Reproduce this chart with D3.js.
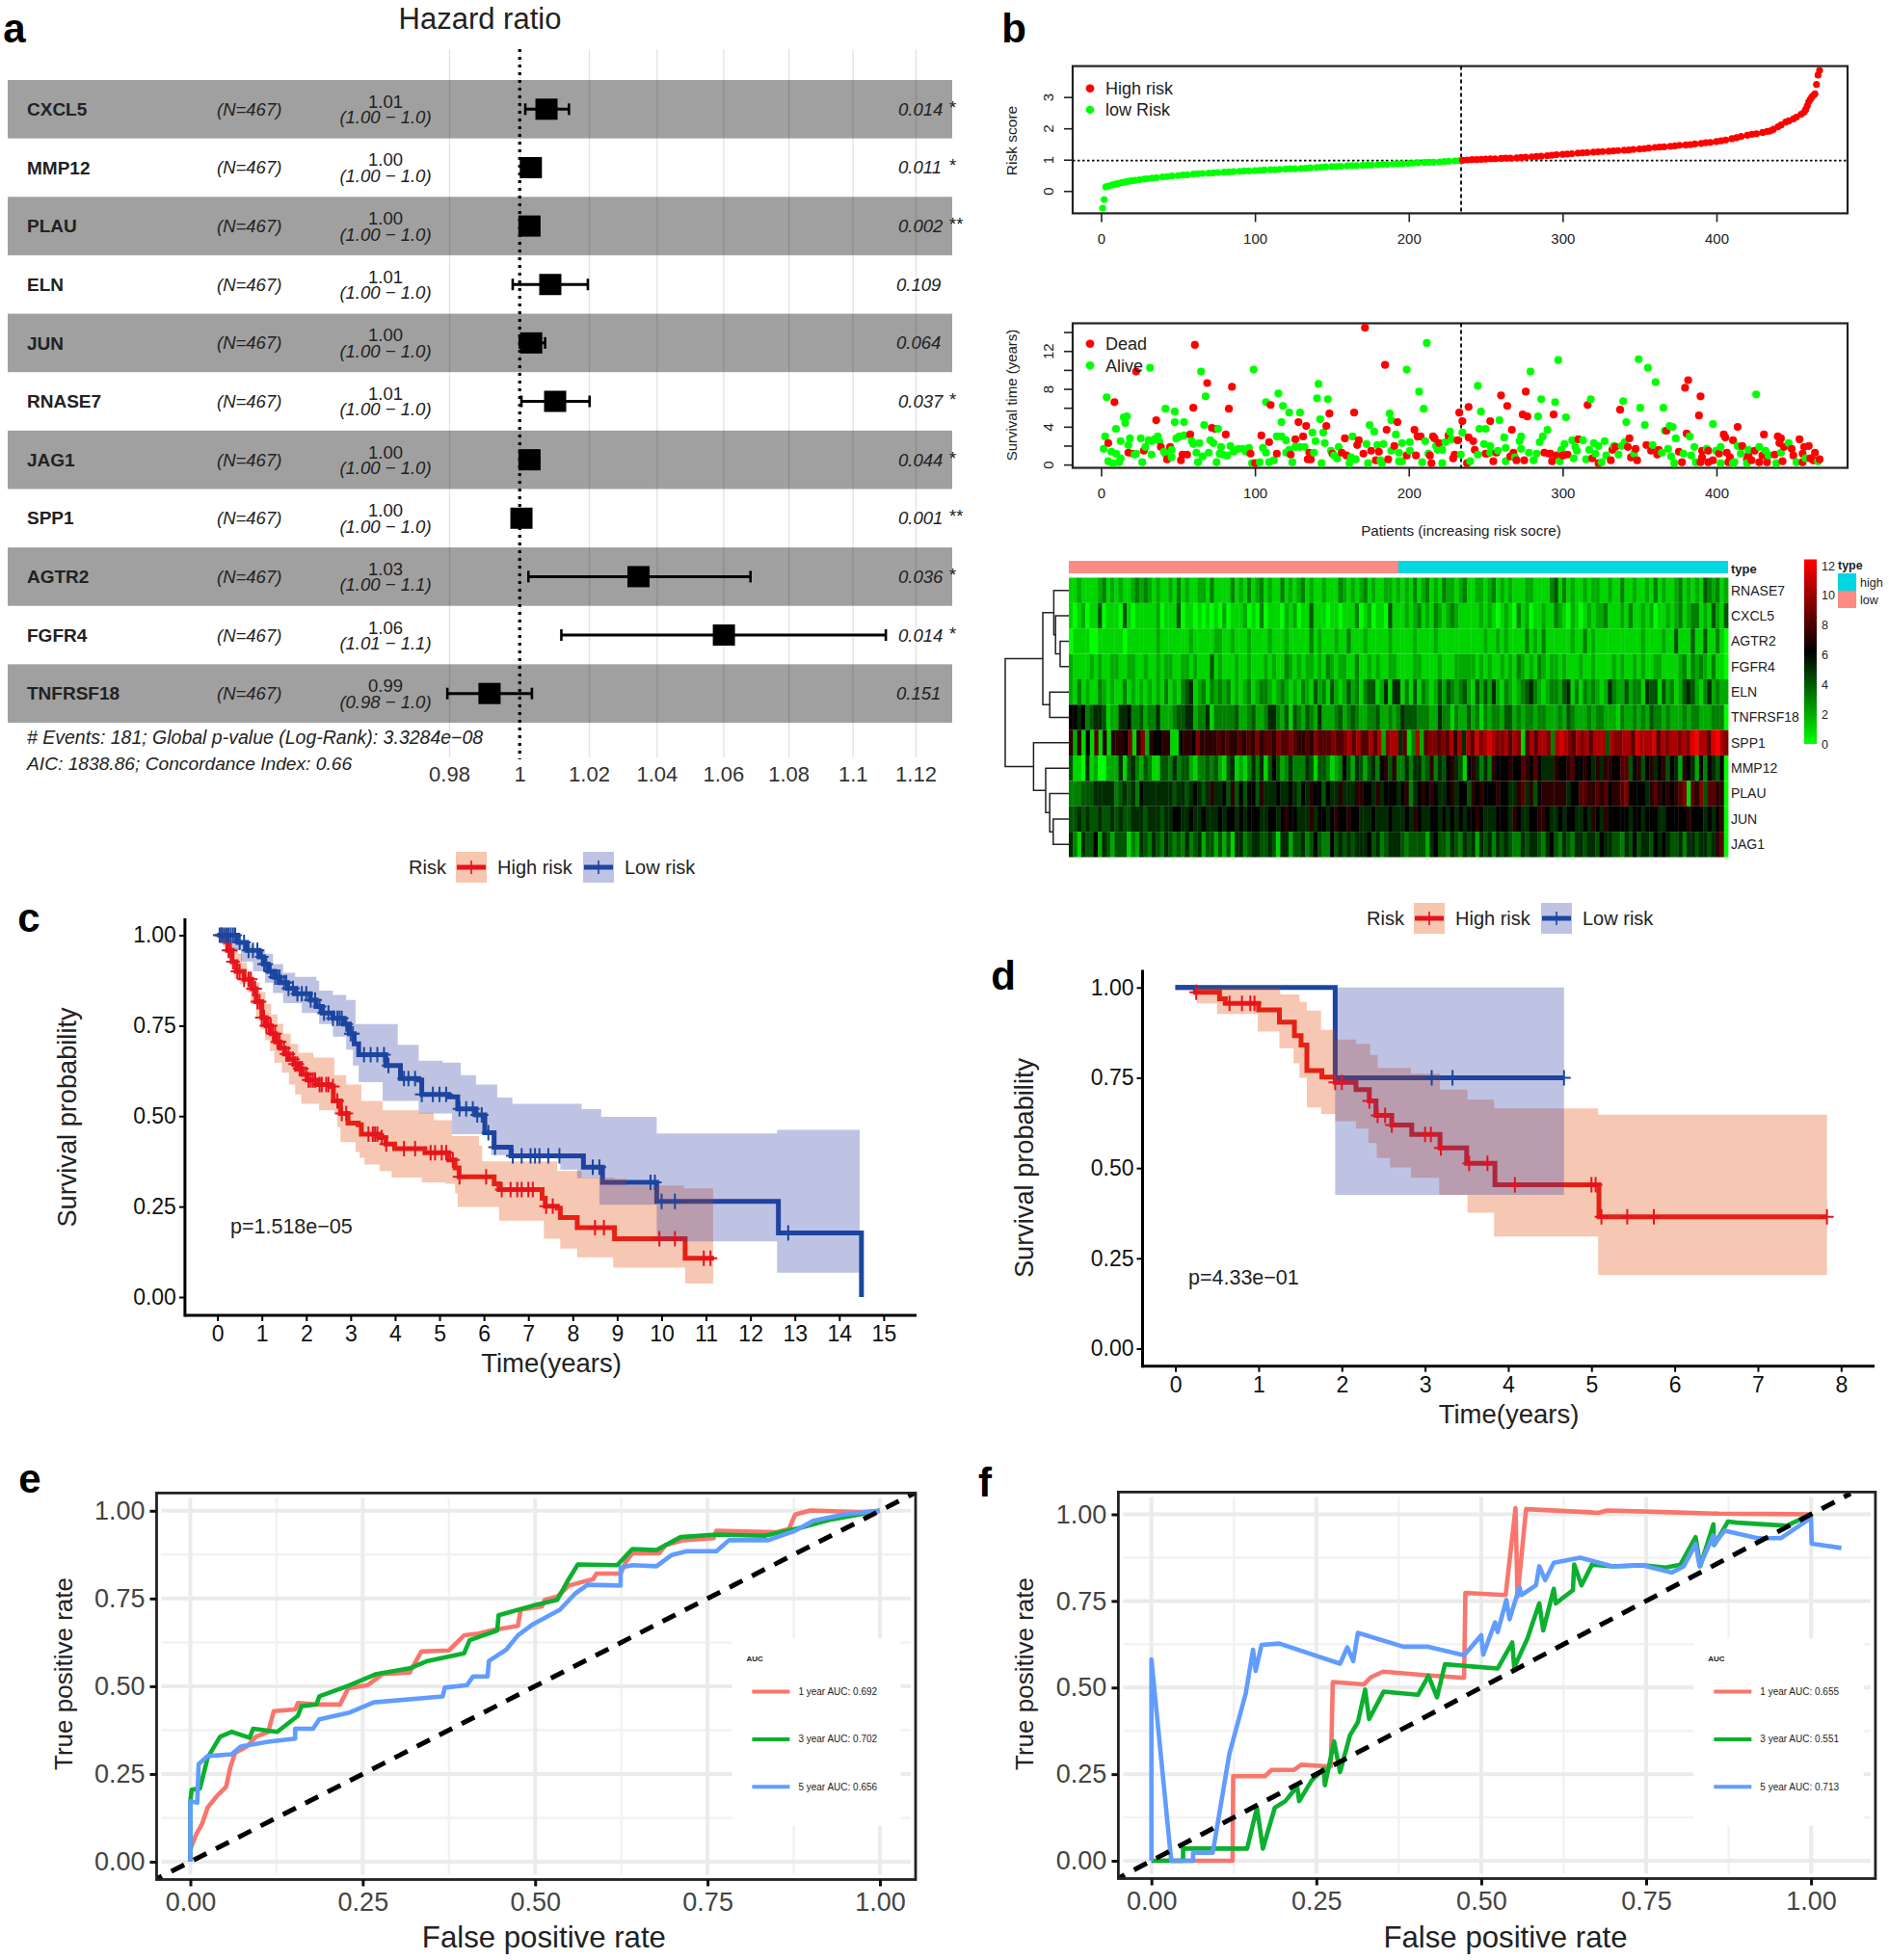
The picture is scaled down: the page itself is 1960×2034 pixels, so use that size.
<!DOCTYPE html>
<html>
<head>
<meta charset="utf-8">
<script src="https://cdn.jsdelivr.net/npm/d3@7"></script>
<style>
	body { margin: 0; background: #fff; }
	svg { display: block; font-family: "Liberation Sans", Arial, sans-serif; }
</style>
</head>
<body>
<svg id="figure" width="1960" height="2034"></svg>
<script>
// Data for panel a (forest plot)
//---------------------------------------------------------------------------
var forestGenes = ["CXCL5", "MMP12", "PLAU", "ELN", "JUN", "RNASE7", "JAG1", "SPP1", "AGTR2", "FGFR4", "TNFRSF18"];
var forestHr = [1.0077, 1.0032, 1.0028, 1.0088, 1.0033, 1.0102, 1.0028, 1.0005, 1.0346, 1.0602, 0.9914];
var forestLow = [1.0016, 1.0010, 1.0010, 0.9980, 1.0000, 1.0005, 1.0001, 1.0002, 1.0025, 1.0120, 0.9795];
var forestHigh = [1.0142, 1.0055, 1.0050, 1.0197, 1.0073, 1.0202, 1.0055, 1.0009, 1.0683, 1.1105, 1.0035];
var forestHrText = ["1.01", "1.00", "1.00", "1.01", "1.00", "1.01", "1.00", "1.00", "1.03", "1.06", "0.99"];
var forestCiText = ["(1.00 − 1.0)", "(1.00 − 1.0)", "(1.00 − 1.0)", "(1.00 − 1.0)", "(1.00 − 1.0)", "(1.00 − 1.0)",
	"(1.00 − 1.0)", "(1.00 − 1.0)", "(1.00 − 1.1)", "(1.01 − 1.1)", "(0.98 − 1.0)"];
var forestP = ["0.014", "0.011", "0.002", "0.109", "0.064", "0.037", "0.044", "0.001", "0.036", "0.014", "0.151"];
var forestStars = ["*", "*", "**", "", "", "*", "*", "**", "*", "*", ""];
var forestTicks = [0.98, 1, 1.02, 1.04, 1.06, 1.08, 1.1, 1.12];

// Data for panel b (risk score, survival scatter, heatmap)
//---------------------------------------------------------------------------
var riskLowPts = [[1,-0.55],[2,-0.27],[3,0.13],[4,0.15],[5,0.16],[7,0.19],[8,0.2],[10,0.23],[11,0.24],[13,0.26],[14,0.27],[16,0.29],[17,0.3],[19,0.32],[20,0.33],[22,0.34],[25,0.36],[28,0.38],[30,0.39],[33,0.41],[36,0.43],[40,0.45],[43,0.46],[46,0.48],[50,0.49],[53,0.51],[56,0.52],[60,0.54],[63,0.55],[66,0.56],[70,0.57],[73,0.58],[76,0.59],[80,0.6],[83,0.61],[86,0.62],[90,0.63],[93,0.64],[96,0.64],[100,0.65],[103,0.66],[106,0.67],[110,0.68],[113,0.68],[116,0.69],[120,0.7],[123,0.71],[126,0.71],[130,0.72],[133,0.73],[136,0.74],[140,0.75],[143,0.76],[146,0.77],[150,0.78],[153,0.78],[156,0.79],[160,0.8],[163,0.81],[166,0.81],[170,0.82],[173,0.83],[176,0.83],[180,0.84],[183,0.85],[186,0.85],[190,0.86],[193,0.87],[196,0.87],[200,0.88],[203,0.89],[206,0.9],[210,0.91],[213,0.92],[216,0.92],[220,0.93],[223,0.94],[226,0.95],[230,0.96],[233,0.97]];
var riskHighPts = [[235,0.98],[238,0.99],[241,1],[244,1],[247,1.01],[250,1.02],[253,1.03],[256,1.03],[260,1.04],[263,1.05],[266,1.05],[270,1.06],[273,1.07],[276,1.08],[280,1.09],[283,1.1],[286,1.11],[290,1.13],[293,1.14],[296,1.16],[300,1.17],[303,1.18],[306,1.19],[310,1.21],[313,1.22],[316,1.23],[320,1.24],[323,1.25],[326,1.26],[330,1.27],[333,1.28],[336,1.29],[340,1.3],[343,1.31],[346,1.33],[350,1.34],[353,1.35],[356,1.37],[360,1.39],[363,1.4],[366,1.41],[370,1.43],[373,1.44],[376,1.46],[380,1.47],[383,1.48],[386,1.5],[390,1.52],[393,1.54],[396,1.55],[400,1.58],[403,1.6],[406,1.63],[410,1.67],[413,1.7],[416,1.74],[420,1.78],[423,1.81],[426,1.83],[430,1.87],[433,1.9],[435,1.92],[437,1.97],[440,2.05],[442,2.11],[445,2.2],[447,2.24],[450,2.3],[452,2.36],[455,2.45],[457,2.52],[458,2.6],[459,2.72],[460,2.85],[461,2.93],[462,3],[463,3.05],[464,3.1],[465,3.4],[466,3.7],[467,3.85]];
var survDead = [[4,2.5],[8,6.8],[22,10],[17,1.5],[20,1.4],[27,1.7],[35,4.9],[38,2.1],[44,2.1],[42,0.8],[51,0.7],[52,1.3],[55,1.3],[57,3.4],[59,6.2],[60,12.8],[68,8.8],[71,4.1],[73,4],[80,3.4],[82,6.1],[84,8.4],[96,1.4],[99,0.4],[103,3.3],[108,2.6],[109,6.5],[113,1.4],[122,1.3],[125,2.9],[127,4.7],[130,3.2],[132,4.3],[134,1.5],[133,0.8],[135,0.8],[145,4.3],[147,5.6],[149,1.4],[155,1.5],[158,1.2],[157,3],[163,5.7],[165,2.3],[166,2.8],[169,1.4],[170,14.6],[174,1.7],[179,1.6],[177,0.7],[185,0.8],[183,10.7],[184,3.9],[189,2.2],[191,4.7],[197,1.2],[202,3.9],[204,3.2],[206,3.2],[203,1.2],[212,1.2],[213,0.4],[214,3.2],[215,3],[218,2.5],[224,3.3],[228,1.3],[227,0.9],[230,2.8],[231,5.7],[233,4.8],[237,6.3],[237,3.1],[240,2.7],[241,1.8],[236,0.4],[248,1.4],[249,1.4],[255,1.5],[258,7.5],[262,6.4],[251,4.8],[265,3.9],[264,1.1],[266,1.5],[268,0.7],[253,0.6],[273,0.7],[274,7.9],[272,5.5],[275,5.3],[292,5.5],[286,1.5],[289,1.4],[290,1.4],[291,0.6],[294,1.2],[298,1.2],[301,1.3],[308,2.9],[314,6.5],[317,0.9],[321,0.4],[329,0.7],[330,1.8],[332,2.1],[335,6],[340,2.1],[341,3],[342,1],[345,1.9],[346,0.7],[352,2.3],[355,1.7],[359,1.3],[360,1.8],[365,3.8],[373,1.6],[375,0.5],[377,8.3],[379,9.1],[378,3.5],[386,5.4],[387,7.4],[388,1.7],[388,1],[392,1.7],[387,0.5],[392,0.5],[395,0.7],[399,1.4],[402,3.4],[403,3.1],[404,1.5],[406,1],[405,0.5],[408,2.8],[411,4.2],[414,2.2],[418,1.2],[417,0.8],[422,1.7],[420,0.7],[425,0.5],[427,1.2],[430,0.5],[428,3.4],[435,1.3],[437,3.2],[439,3],[438,2.5],[441,2.1],[440,0.6],[446,1.9],[447,1.2],[451,2.9],[453,1.4],[454,2.1],[453,0.5],[457,2.2],[458,0.9],[461,1.5],[464,0.8],[460,0.7]];
var survAlive = [[3,7.3],[2,3.2],[1,1.9],[6,1.6],[4,0.6],[7,0.4],[9,1.4],[12,0.9],[11,0.5],[9,4],[12,2.7],[14,5.2],[16,5.3],[15,4.6],[18,3],[17,2.3],[22,1.4],[21,1.3],[25,3],[28,2.1],[30,2.8],[32,1.3],[26,0.5],[31,10.4],[32,2.7],[34,2.9],[36,3.2],[37,2.7],[41,6.1],[40,1.6],[41,1.4],[45,1.8],[45,1],[47,5.8],[47,4.7],[53,4.7],[48,3],[50,3.2],[53,3.3],[58,2.7],[59,2.4],[63,2.5],[61,1.5],[66,4.4],[64,10],[67,7.4],[70,2.8],[72,2.5],[75,4],[62,0.5],[65,1.1],[69,1.5],[74,0.5],[77,2.1],[76,1.4],[78,1.3],[81,1.2],[83,2.2],[85,1.6],[88,1.9],[91,1.9],[95,2],[93,1.6],[97,0.4],[102,0.5],[98,10.2],[104,2],[106,1.5],[106,6.8],[108,0.5],[111,0.7],[114,7.7],[117,6.4],[121,5.7],[116,4.7],[113,3.2],[116,3.2],[119,2.8],[121,1.8],[119,1.5],[123,0.5],[125,2.1],[128,2.1],[131,2.1],[128,5.7],[137,1.5],[136,3.6],[138,2.7],[139,7.2],[140,8.7],[141,5],[143,3.6],[144,2.5],[146,7.1],[148,1.7],[142,0.4],[150,1.2],[152,0.9],[153,2.1],[160,0.4],[161,1],[164,0.8],[162,3.2],[171,2.4],[172,0.4],[173,4.4],[176,3.7],[178,2.3],[182,2.4],[186,5.6],[187,4.9],[190,3.4],[194,2.5],[192,1.5],[187,1.7],[180,0.7],[181,0.4],[192,0.6],[194,0.6],[197,10.2],[199,2.6],[199,1.7],[205,7.9],[208,6.1],[210,13],[209,2.7],[207,0.5],[211,1.4],[220,0.4],[216,2.2],[217,1.8],[220,1.8],[222,2.6],[225,3.7],[226,2.9],[233,3.6],[232,1.3],[243,8.5],[245,5.8],[244,4],[248,4],[247,2.4],[251,2.2],[251,1.5],[243,1.3],[238,0.6],[256,1.7],[257,4.9],[260,3.1],[261,2],[261,0.6],[270,2.7],[271,3.2],[271,1.9],[267,1],[277,10],[284,7.1],[282,5.3],[288,3.9],[285,3.2],[283,2.6],[276,1.5],[281,1.4],[279,0.7],[293,6.8],[295,11.2],[300,5.2],[299,2.4],[297,1.8],[296,0.6],[304,2.8],[306,2.1],[305,0.9],[311,2.8],[307,1.7],[313,0.8],[316,7.1],[318,2.5],[315,1.8],[321,2.2],[319,1.4],[325,2.7],[326,1.2],[323,0.5],[331,2.2],[334,1.3],[336,2.2],[338,2.6],[337,6.9],[339,4.7],[344,1.4],[348,6.2],[351,4.4],[347,11.3],[353,10.4],[358,8.9],[363,6.2],[356,2.3],[362,1.5],[366,1.9],[368,1.1],[367,4.3],[369,4.2],[364,3.8],[371,3],[370,0.4],[376,1.4],[380,3.2],[383,2.1],[381,1.2],[384,0.5],[395,4.5],[391,1.9],[397,1.7],[400,2.1],[400,0.4],[409,0.5],[408,0.4],[411,2.2],[413,2.1],[413,1.4],[417,0.4],[418,1.8],[423,7.6],[425,2.1],[429,1.7],[431,1.2],[436,0.4],[439,1.5],[444,2.5],[449,0.5],[455,0.9],[463,0.6]];
var scatterTicks = [0, 100, 200, 300, 400];
var riskTicks = [0, 1, 2, 3];
var survTicks = [0, 2, 4, 6, 8, 10, 12, 14];
var riskCut = 0.97;
var medianPatient = 234;

var heatGenes = ["RNASE7", "CXCL5", "AGTR2", "FGFR4", "ELN", "TNFRSF18", "SPP1", "MMP12", "PLAU", "JUN", "JAG1"];
// one hex digit per column, expression 0-12
var heatRows = [
	"112111123121211232321211213121122131111312131231211312123121121113212123121122121213123121322123112212312121112211113413121121221121131121121312112312121432312",
	"101201140111041011111201114011010101020111201030111021201141110110111301201104111212312132123211111212101210312011211321021012122311121311212011212312331214214",
	"011110011111101111111211111112111112211211121111211121111131211121131112111112111112111121111111111121121211113121311111121131211111111111211112114111411411310",
	"211112121122112211211212211221211141211121121112121132121221213212211311212112211112211112111222221212112121321213212212111211211112121121211221111231323213110",
	"213121132121131212121213121345123132323121231233212321213214231421242313441251551314132124243234214242521321234532123324513132321253224233154414231245421352322",
	"665634554122556334233522234455233513333342234223553241432432522234234322334223235444333225331322423132332442323323322232432223233222132232324332322232332223330",
	"727161817177769179276677116776977778787787879788798898778798889889a8a88a8a29aa5813a2899898a7a5a8b9aba99a8a918a8aa93aba98a9a8aaa4a99aa8baaab8a9aa9a9bcaa8bca9",
	"411051200222514532431144353442133434214512135351464235333541443123642542453674733535534735467541675353766676687686555766786676575776688467467567465276526365460",
	"333444555553454536555555545545654575564746466475556556546576646557555776657566656735676765567566476766676655785746777777566887787867789666657876767891879488770",
	"445454454454544555455545566556556555656656566655665676655575665676676655565556555657655665656565667655566657655667765565665565765766666566566655666667666565670",
	"531544625424441325435435434353452442424155345544541552445346433645454555645345554344442564435435452545354543354554356435435545546554435464554656544535545545780"
];
var heatLegendTicks = [0, 2, 4, 6, 8, 10, 12];
// merge height followed by its two children, plain numbers are leaf rows
var dendroTree = [110, [45, [26, 0, [23, 1, [15, 2, 3]]], [33, 4, 5]], [61, 6, [40, 7, [33, 8, [27, 9, 10]]]]];

// Data for panels c and d (survival curves), [time, probability] per step
//---------------------------------------------------------------------------
var kmYTicks = [0, 0.25, 0.5, 0.75, 1];
var cTicks = [0, 1, 2, 3, 4, 5, 6, 7, 8, 9, 10, 11, 12, 13, 14, 15];
var cHigh = [[0,1],[0.12,0.997],[0.23,0.958],[0.33,0.927],[0.42,0.9],[0.6,0.878],[0.77,0.852],[0.87,0.816],[1,0.772],[1.1,0.75],[1.21,0.728],[1.31,0.705],[1.41,0.688],[1.51,0.672],[1.61,0.657],[1.72,0.644],[1.82,0.631],[1.92,0.615],[2.02,0.6],[2.23,0.587],[2.56,0.582],[2.61,0.542],[2.77,0.507],[2.94,0.481],[3.17,0.476],[3.24,0.45],[3.65,0.441],[3.79,0.423],[3.99,0.41],[4.67,0.399],[5.21,0.379],[5.35,0.357],[5.44,0.332],[6.16,0.332],[6.23,0.313],[6.34,0.297],[7.25,0.297],[7.31,0.273],[7.38,0.251],[7.65,0.246],[7.72,0.22],[8.1,0.192],[8.94,0.161],[10.53,0.107],[11.18,0.107]];
var cHighUp = [[0,1],[0.2,0.985],[0.33,0.965],[0.46,0.949],[0.55,0.925],[0.66,0.896],[0.8,0.87],[0.94,0.843],[1.08,0.81],[1.21,0.781],[1.35,0.755],[1.48,0.728],[1.65,0.7],[1.82,0.675],[2.16,0.662],[2.63,0.613],[2.9,0.587],[3.24,0.542],[3.72,0.516],[4.53,0.509],[4.87,0.489],[5.28,0.445],[5.89,0.419],[5.96,0.375],[7.65,0.348],[8.2,0.33],[8.94,0.326],[9.21,0.308],[10.5,0.3],[11.16,0.3]];
var cHighLow = [[0,1],[0.12,0.97],[0.26,0.94],[0.39,0.878],[0.5,0.865],[0.66,0.843],[0.75,0.81],[0.87,0.772],[0.97,0.74],[1.07,0.71],[1.18,0.68],[1.28,0.648],[1.45,0.62],[1.61,0.587],[1.75,0.56],[1.89,0.534],[2.29,0.516],[2.63,0.507],[2.7,0.47],[2.77,0.428],[3.11,0.401],[3.2,0.385],[3.31,0.366],[3.65,0.348],[3.92,0.33],[4.6,0.317],[5.14,0.313],[5.35,0.286],[5.41,0.249],[6.34,0.211],[7.35,0.161],[7.72,0.134],[8.1,0.11],[8.91,0.081],[10.53,0.037],[11.16,0.037]];
var cLow = [[0,1],[0.46,0.98],[0.66,0.958],[0.94,0.94],[1.04,0.92],[1.14,0.9],[1.28,0.884],[1.41,0.869],[1.58,0.853],[1.75,0.838],[2.09,0.821],[2.22,0.803],[2.36,0.785],[2.6,0.77],[2.84,0.754],[2.97,0.728],[3.08,0.7],[3.18,0.67],[3.79,0.64],[4.12,0.604],[4.53,0.6],[4.6,0.56],[5.21,0.553],[5.41,0.52],[5.82,0.503],[6.02,0.454],[6.23,0.414],[6.61,0.39],[8.24,0.359],[8.67,0.317],[9.89,0.264],[12.63,0.177],[14.5,0]];
var cLowUp = [[0,1],[0.3,0.99],[0.53,0.975],[0.8,0.962],[1.07,0.949],[1.25,0.92],[1.48,0.896],[1.75,0.885],[2.23,0.874],[2.29,0.847],[2.6,0.835],[2.9,0.821],[3.11,0.754],[4.06,0.697],[4.53,0.653],[5.07,0.648],[5.48,0.613],[5.82,0.587],[6.3,0.551],[6.64,0.534],[8.2,0.519],[8.64,0.498],[9.89,0.452],[12.6,0.462],[14.46,0.462]];
var cLowLow = [[0,1],[0.3,0.96],[0.53,0.927],[0.8,0.9],[1.07,0.869],[1.25,0.84],[1.48,0.812],[1.9,0.785],[2.29,0.754],[2.6,0.72],[2.9,0.684],[3.05,0.64],[3.18,0.594],[3.72,0.542],[4.53,0.507],[5.28,0.45],[6.16,0.392],[7.72,0.352],[8.1,0.329],[8.6,0.255],[9.89,0.154],[12.6,0.067],[14.46,0.067]];
var cHighCensor = [0.1,0.15,0.2,0.25,0.3,0.35,0.45,0.5,0.6,0.7,0.75,0.8,0.85,0.9,0.95,1,1.05,1.1,1.15,1.2,1.25,1.3,1.35,1.4,1.5,1.55,1.6,1.7,1.75,1.8,1.85,1.9,2,2.05,2.1,2.15,2.2,2.3,2.35,2.45,2.5,2.6,2.7,2.8,2.9,3.4,3.5,3.55,3.6,3.7,3.8,4.2,4.45,4.8,4.9,5.05,5.15,5.3,5.45,6.05,6.4,6.6,6.75,6.85,7,7.1,7.4,7.55,8.5,8.7,9.95,10.3,10.95,11.1];
var cLowCensor = [0.05,0.1,0.15,0.2,0.25,0.3,0.35,0.4,0.5,0.6,0.7,0.8,0.9,1,1.05,1.1,1.2,1.3,1.35,1.4,1.5,1.55,1.6,1.7,1.8,1.9,2,2.1,2.2,2.3,2.4,2.5,2.6,2.7,2.75,2.8,2.9,3,3.05,3.3,3.45,3.6,3.75,3.85,4.2,4.3,4.45,4.6,4.85,5,5.15,5.45,5.6,5.75,5.85,5.95,6.1,6.25,6.65,6.85,7.05,7.15,7.25,7.45,7.7,8.45,8.6,9.75,9.85,10,10.3,12.85];

var dTicks = [0, 1, 2, 3, 4, 5, 6, 7, 8];
var dHigh = [[0,1],[0.24,0.987],[0.53,0.969],[0.6,0.956],[1,0.938],[1.25,0.904],[1.43,0.867],[1.51,0.841],[1.58,0.77],[1.76,0.752],[1.92,0.737],[2.17,0.717],[2.33,0.686],[2.41,0.646],[2.6,0.619],[2.84,0.593],[3.18,0.556],[3.5,0.513],[3.84,0.454],[5.09,0.365],[7.83,0.365]];
var dHighUp = [[0,1],[1.26,0.981],[1.49,0.96],[1.58,0.936],[1.75,0.883],[1.92,0.856],[2.17,0.844],[2.34,0.813],[2.43,0.777],[2.83,0.761],[3.18,0.717],[3.51,0.69],[3.83,0.665],[5.08,0.648],[7.83,0.648]];
var dHighLow = [[0,1],[0.26,0.956],[0.5,0.927],[0.99,0.878],[1.25,0.832],[1.42,0.79],[1.49,0.75],[1.58,0.668],[1.75,0.65],[1.92,0.63],[2.17,0.609],[2.32,0.569],[2.42,0.528],[2.58,0.502],[2.83,0.473],[3.17,0.426],[3.51,0.376],[3.83,0.31],[5.08,0.204],[7.83,0.204]];
var dLow = [[0,1],[1.92,0.75],[4.67,0.75]];
var dLowUp = [[0,1],[4.67,1]];
var dLowLow = [[0,1],[1.92,0.426],[4.67,0.426]];
var dHighCensor = [0.25,0.65,0.8,0.9,0.95,1.92,2,2.33,2.43,2.52,2.6,3,3.07,3.19,3.53,3.75,4.08,5,5.05,5.12,5.43,5.75,7.83];
var dLowCensor = [3.08,3.33,4.67];

// Data for panels e and f (ROC curves), [false positive, true positive]
//---------------------------------------------------------------------------
var rocTicks = [0, 0.25, 0.5, 0.75, 1];
var rocMinor = [0.125, 0.375, 0.625, 0.875];
var rocDiag = [-0.06, 1.06];
var e1year = [[0,0],[0,0.035],[0.008,0.076],[0.017,0.108],[0.025,0.154],[0.038,0.186],[0.052,0.214],[0.058,0.269],[0.065,0.31],[0.082,0.328],[0.095,0.356],[0.113,0.37],[0.121,0.429],[0.152,0.434],[0.156,0.452],[0.183,0.448],[0.217,0.448],[0.229,0.494],[0.257,0.503],[0.279,0.535],[0.318,0.539],[0.335,0.599],[0.375,0.602],[0.397,0.645],[0.418,0.65],[0.436,0.659],[0.475,0.672],[0.479,0.718],[0.51,0.728],[0.514,0.746],[0.532,0.755],[0.549,0.787],[0.584,0.805],[0.589,0.821],[0.624,0.821],[0.632,0.856],[0.641,0.879],[0.68,0.879],[0.689,0.902],[0.715,0.916],[0.759,0.922],[0.763,0.943],[0.851,0.939],[0.868,0.948],[0.877,0.989],[0.899,1.001],[0.973,0.996],[1,1]];
var e3year = [[0,0],[0,0.172],[0.002,0.205],[0.014,0.209],[0.025,0.296],[0.043,0.356],[0.06,0.37],[0.086,0.353],[0.091,0.379],[0.126,0.37],[0.156,0.416],[0.161,0.443],[0.183,0.448],[0.187,0.471],[0.231,0.503],[0.27,0.535],[0.318,0.551],[0.344,0.572],[0.397,0.594],[0.405,0.631],[0.445,0.659],[0.447,0.702],[0.501,0.732],[0.532,0.746],[0.549,0.806],[0.562,0.847],[0.619,0.845],[0.641,0.891],[0.676,0.888],[0.711,0.925],[0.763,0.932],[0.833,0.929],[0.886,0.952],[0.929,0.975],[1,1]];
var e5year = [[0,0],[0,0.172],[0.01,0.168],[0.012,0.278],[0.025,0.301],[0.06,0.306],[0.073,0.328],[0.113,0.342],[0.152,0.351],[0.152,0.379],[0.178,0.379],[0.187,0.406],[0.231,0.425],[0.266,0.454],[0.366,0.471],[0.369,0.496],[0.401,0.503],[0.41,0.528],[0.431,0.528],[0.433,0.572],[0.458,0.604],[0.475,0.645],[0.497,0.677],[0.536,0.718],[0.558,0.764],[0.576,0.789],[0.624,0.787],[0.624,0.838],[0.641,0.845],[0.676,0.842],[0.698,0.874],[0.72,0.885],[0.763,0.885],[0.781,0.916],[0.838,0.916],[0.877,0.943],[0.903,0.971],[0.947,0.989],[1,1]];
var f1year = [[0,0],[0.123,0],[0.124,0.244],[0.172,0.244],[0.182,0.262],[0.216,0.262],[0.227,0.277],[0.272,0.272],[0.275,0.516],[0.322,0.509],[0.333,0.53],[0.351,0.546],[0.413,0.536],[0.474,0.528],[0.476,0.773],[0.537,0.767],[0.552,1.018],[0.555,0.762],[0.568,1.015],[0.664,1.006],[0.677,1.004],[0.691,1.011],[0.789,1.006],[0.86,1.002],[0.932,1.001],[1,1]];
var f3year = [[0,0],[0.029,0],[0.048,0],[0.048,0.035],[0.145,0.035],[0.16,0.153],[0.169,0.035],[0.187,0.153],[0.203,0.172],[0.221,0.214],[0.224,0.172],[0.243,0.232],[0.261,0.265],[0.263,0.218],[0.277,0.344],[0.286,0.256],[0.301,0.362],[0.313,0.4],[0.324,0.494],[0.33,0.409],[0.352,0.488],[0.404,0.479],[0.42,0.534],[0.433,0.472],[0.445,0.567],[0.525,0.555],[0.547,0.63],[0.55,0.558],[0.57,0.641],[0.588,0.743],[0.594,0.665],[0.61,0.785],[0.613,0.743],[0.639,0.781],[0.641,0.855],[0.652,0.795],[0.668,0.855],[0.699,0.85],[0.744,0.853],[0.78,0.846],[0.802,0.855],[0.825,0.934],[0.832,0.85],[0.852,0.971],[0.853,0.911],[0.874,0.979],[0.887,0.976],[0.963,0.967],[1,1]];
var f5year = [[0,0],[0,0.581],[0.03,0],[0.063,0],[0.063,0.023],[0.093,0.023],[0.118,0.307],[0.143,0.483],[0.154,0.609],[0.158,0.548],[0.167,0.623],[0.194,0.627],[0.286,0.569],[0.297,0.616],[0.306,0.576],[0.313,0.658],[0.382,0.618],[0.418,0.618],[0.474,0.593],[0.5,0.651],[0.503,0.595],[0.521,0.688],[0.525,0.66],[0.538,0.753],[0.543,0.697],[0.558,0.79],[0.561,0.767],[0.583,0.795],[0.588,0.85],[0.597,0.81],[0.61,0.86],[0.65,0.875],[0.699,0.85],[0.744,0.853],[0.789,0.832],[0.807,0.85],[0.825,0.915],[0.831,0.85],[0.852,0.939],[0.853,0.913],[0.869,0.953],[0.919,0.931],[0.954,0.931],[1,0.99],[1.001,0.915],[1.046,0.903]];
var eLegend = ["1 year AUC: 0.692", "3 year AUC: 0.702", "5 year AUC: 0.656"];
var fLegend = ["1 year AUC: 0.655", "3 year AUC: 0.551", "5 year AUC: 0.713"];

// Shared colours
var redLine = "#e7121f", blueLine = "#1a479f";
var redRibbon = "#e14400", blueRibbon = "#2a37a2";
var rocColors = ["#f8766d", "#0cb02f", "#619cff"];
var textDark = "#222";

var svg = d3.select("#figure");

function addText(g, x, y, str, size, opts) {
	opts = opts || {};
	var t = g.append("text")
		.attr("x", x).attr("y", y)
		.attr("dy", ".35em")
		.attr("font-size", size)
		.attr("fill", opts.fill || textDark)
		.attr("text-anchor", opts.anchor || "start")
		.attr("font-style", opts.italic ? "italic" : "normal")
		.attr("font-weight", opts.bold ? "bold" : "normal")
		.text(str);
	if (opts.rotate) t.attr("transform", "rotate(-90," + x + "," + y + ")");
	return t;
}

function styleAxis(g, size, color, width, fill) {
	g.selectAll("text").attr("font-size", size).attr("fill", fill).attr("font-family", null);
	g.selectAll("line").attr("stroke", color).attr("stroke-width", width);
	g.select(".domain").remove();
}

// Panel letters
var panelLetters = [["a", 15, 29], ["b", 1052, 29], ["c", 30, 952], ["d", 1041, 1012], ["e", 31, 1534], ["f", 1022, 1538]];
panelLetters.forEach(function(d) {
	addText(svg, d[1], d[2], d[0], 42, { bold: true, anchor: "middle", fill: "#000" });
});

// Risk legend, same for a and d
function drawRiskLegend(x, y) {
	var g = svg.append("g").attr("transform", "translate(" + x + "," + y + ")");
	addText(g, 0, 0, "Risk", 20);
	[[49, "#f6c6ae", redLine, "High risk"], [181, "#bfc3e3", blueLine, "Low risk"]].forEach(function(d) {
		g.append("rect").attr("x", d[0]).attr("y", -16).attr("width", 32).attr("height", 32).attr("fill", d[1]);
		g.append("line").attr("x1", d[0] + 1).attr("x2", d[0] + 31).attr("y1", 0).attr("y2", 0)
			.attr("stroke", d[2]).attr("stroke-width", 5);
		g.append("line").attr("x1", d[0] + 16).attr("x2", d[0] + 16).attr("y1", -7).attr("y2", 7)
			.attr("stroke", d[2]).attr("stroke-width", 1.6);
		addText(g, d[0] + 43, 0, d[3], 20);
	});
}

// Panel a
//---------------------------------------------------------------------------
(function() {
	var g = svg.append("g");
	var x = d3.scaleLog().domain([0.98, 1.12]).range([466, 950]);
	var y = d3.scaleBand().domain(forestGenes).range([83, 750]);

	addText(g, 498, 19, "Hazard ratio", 31, { anchor: "middle" });

	g.selectAll("rect.stripe")
		.data(forestGenes.filter(function(d, i) { return i % 2 === 0; }))
		.enter().append("rect")
		.attr("class", "stripe")
		.attr("x", 8).attr("width", 980)
		.attr("y", function(d) { return y(d); })
		.attr("height", y.bandwidth())
		.attr("fill", "#a0a0a0");

	// grid and tick labels come from one axis
	var axis = g.append("g").attr("transform", "translate(0,786)")
		.call(d3.axisBottom(x).tickValues(forestTicks).tickFormat(function(d) { return String(d); }).tickSize(-735).tickPadding(9));
	styleAxis(axis, 22, "#000", 1, "#333");
	axis.selectAll("line").attr("stroke-opacity", 0.11).attr("stroke-width", 1.4);

	g.append("line").attr("x1", x(1)).attr("x2", x(1)).attr("y1", 51).attr("y2", 788)
		.attr("stroke", "#000").attr("stroke-width", 3.2).attr("stroke-dasharray", "3,5");

	forestGenes.forEach(function(gene, i) {
		var cy = y(gene) + y.bandwidth() / 2;
		addText(g, 28, cy, gene, 19, { bold: true });
		addText(g, 225, cy, "(N=467)", 18.5, { italic: true });
		addText(g, 400, cy - 8, forestHrText[i], 18.5, { anchor: "middle" });
		addText(g, 400, cy + 8.5, forestCiText[i], 18.5, { anchor: "middle", italic: true });
		var starred = forestStars[i] !== "";
		addText(g, starred ? 932 : 930, cy, forestP[i], 18.5, { italic: true });
		if (starred) addText(g, 985, cy - 2, forestStars[i], 18.5);
		// CI whisker with end caps
		g.append("line").attr("x1", x(forestLow[i])).attr("x2", x(forestHigh[i])).attr("y1", cy).attr("y2", cy)
			.attr("stroke", "#000").attr("stroke-width", 3);
		[forestLow[i], forestHigh[i]].forEach(function(v) {
			g.append("line").attr("x1", x(v)).attr("x2", x(v)).attr("y1", cy - 6).attr("y2", cy + 6)
				.attr("stroke", "#000").attr("stroke-width", 2.6);
		});
		g.append("rect").attr("x", x(forestHr[i]) - 11.5).attr("width", 23)
			.attr("y", cy - 11).attr("height", 22).attr("fill", "#000");
	});

	addText(g, 28, 765, "# Events: 181; Global p-value (Log-Rank): 3.3284e−08", 19.5, { italic: true });
	addText(g, 28, 792, "AIC: 1838.86; Concordance Index: 0.66", 19.2, { italic: true });
})();
drawRiskLegend(424, 900);

// Panel b scatter plots
//---------------------------------------------------------------------------
var bX = d3.scaleLinear().domain([0, 400]).range([1142.5, 1781]);
var boxLeft = 1113, boxRight = 1917;

function drawScatterFrame(y, bottom, ticks, tickFmt, title, titleY, titleSize) {
	var g = svg.append("g");
	var ax = g.append("g").attr("transform", "translate(0," + bottom + ")")
		.call(d3.axisBottom(bX).tickValues(scatterTicks).tickSize(9).tickPadding(12));
	styleAxis(ax, 15, "#222", 1.6, "#222");
	var ay = g.append("g").attr("transform", "translate(" + boxLeft + ",0)")
		.call(d3.axisLeft(y).tickValues(ticks).tickFormat(tickFmt).tickSize(9));
	styleAxis(ay, 15, "#222", 1.6, "#222");
	ay.selectAll("text").attr("transform", "rotate(-90)")
		.attr("x", 0).attr("y", -20).attr("dy", 0)
		.style("text-anchor", "middle");
	addText(g, 1050, titleY, title, titleSize, { rotate: true, anchor: "middle" });
	return g;
}

function drawScatterBox(g, top, bottom) {
	g.append("rect").attr("x", boxLeft).attr("y", top).attr("width", boxRight - boxLeft).attr("height", bottom - top)
		.attr("fill", "none").attr("stroke", "#222").attr("stroke-width", 2.2);
	g.append("line").attr("x1", bX(medianPatient)).attr("x2", bX(medianPatient)).attr("y1", top).attr("y2", bottom)
		.attr("stroke", "#000").attr("stroke-width", 1.8).attr("stroke-dasharray", "4,3");
}

function addLegendDot(g, y, color, label) {
	g.append("ellipse").attr("cx", 1131).attr("cy", y).attr("rx", 4.4).attr("ry", 4.2).attr("fill", color);
	addText(g, 1147, y, label, 18);
}

(function() {
	var y = d3.scaleLinear().domain([0, 3]).range([198.2, 100.7]);
	var g = drawScatterFrame(y, 221.4, riskTicks, d3.format("d"), "Risk score", 146, 15.5);
	drawScatterBox(g, 68.6, 221.4);
	g.append("line").attr("x1", boxLeft).attr("x2", boxRight).attr("y1", y(riskCut)).attr("y2", y(riskCut))
		.attr("stroke", "#000").attr("stroke-width", 1.8).attr("stroke-dasharray", "2.5,2.5");
	[[riskLowPts, "#00ff00"], [riskHighPts, "#ff0000"]].forEach(function(s) {
		g.selectAll(null).data(s[0]).enter().append("circle")
			.attr("cx", function(d) { return bX(d[0]); })
			.attr("cy", function(d) { return y(d[1]); })
			.attr("r", 3.6)
			.attr("fill", s[1]);
	});
	addLegendDot(g, 91.8, "#ff0000", "High risk");
	addLegendDot(g, 113.9, "#00ff00", "low Risk");
})();

(function() {
	var y = d3.scaleLinear().domain([0, 14]).range([482.1, 344.6]);
	var g = drawScatterFrame(y, 485.5, survTicks, function(d) { return d % 4 === 0 ? d : ""; }, "Survival time (years)", 410, 15);
	drawScatterBox(g, 335.5, 485.5);
	// the points were read on a slightly different calibration than the axes
	var ptX = d3.scaleLinear().domain([0, 400]).range([1143.5, 1785.3]);
	var ptY = d3.scaleLinear().domain([0, 14]).range([484.6, 346]);
	// plotted in patient order so the colours interleave as they do in the plot
	var pts = survDead.map(function(d) { return [d[0], d[1], "#ff0000"]; })
		.concat(survAlive.map(function(d) { return [d[0], d[1], "#00ff00"]; }))
		.sort(function(a, b) { return a[0] - b[0]; });
	g.selectAll(null).data(pts).enter().append("circle")
		.attr("cx", function(d) { return ptX(d[0]); })
		.attr("cy", function(d) { return ptY(d[1]); })
		.attr("r", 4.1)
		.attr("fill", function(d) { return d[2]; });
	addLegendDot(g, 356.8, "#ff0000", "Dead");
	addLegendDot(g, 379.3, "#00ff00", "Alive");
	addText(g, 1516, 551, "Patients (increasing risk socre)", 15.2, { anchor: "middle" });
})();

// Panel b heatmap
//---------------------------------------------------------------------------
(function() {
	var g = svg.append("g");
	var left = 1109, right = 1793;
	var rowY = d3.scaleBand().domain(heatGenes).range([599.5, 889.5]);
	var color = d3.scaleLinear().domain([0, 6, 12]).range(["#00ff00", "#000000", "#ff0000"]).clamp(true);

	g.append("rect").attr("x", left).attr("y", 582).attr("width", 342).attr("height", 13).attr("fill", "#fb8b83");
	g.append("rect").attr("x", 1451).attr("y", 582).attr("width", right - 1451).attr("height", 13).attr("fill", "#00d7e2");
	addText(g, 1796, 590, "type", 13, { bold: true });

	heatGenes.forEach(function(gene, r) {
		var vals = heatRows[r].split("").map(function(c) { return parseInt(c, 16); });
		var colX = d3.scaleBand().domain(d3.range(vals.length)).range([left, right]);
		g.selectAll(null).data(vals).enter().append("rect")
			.attr("x", function(d, i) { return colX(i); })
			.attr("y", rowY(gene))
			.attr("width", colX.bandwidth() + 0.4)
			.attr("height", rowY.bandwidth())
			.attr("fill", function(d) { return color(d); });
		addText(g, 1796, rowY(gene) + rowY.bandwidth() / 2, gene, 14);
	});

	// dendrogram, recursive over the merge list
	var hX = d3.scaleLinear().domain([0, 110]).range([left, 1043]);
	function drawNode(node) {
		if (typeof node === "number") return { x: left, y: rowY(heatGenes[node]) + rowY.bandwidth() / 2 };
		var a = drawNode(node[1]), b = drawNode(node[2]), mx = hX(node[0]);
		var p = d3.path();
		p.moveTo(a.x, a.y); p.lineTo(mx, a.y); p.lineTo(mx, b.y); p.lineTo(b.x, b.y);
		g.append("path").attr("d", p.toString()).attr("fill", "none").attr("stroke", "#222").attr("stroke-width", 1.5);
		return { x: mx, y: (a.y + b.y) / 2 };
	}
	drawNode(dendroTree);

	// colour key
	var keyY = d3.scaleLinear().domain([0, 12]).range([772, 587]);
	var defs = svg.append("defs");
	var grad = defs.append("linearGradient").attr("id", "heatKey").attr("x1", 0).attr("x2", 0).attr("y1", 1).attr("y2", 0);
	[[0, "#00ff00"], [0.5, "#000000"], [1, "#ff0000"]].forEach(function(s) {
		grad.append("stop").attr("offset", s[0]).attr("stop-color", s[1]);
	});
	g.append("rect").attr("x", 1872).attr("y", 580.5).attr("width", 13).attr("height", 191.5).attr("fill", "url(#heatKey)");
	var keyAxis = g.append("g").attr("transform", "translate(1885,0)")
		.call(d3.axisRight(keyY).tickValues(heatLegendTicks).tickSize(0).tickPadding(5));
	styleAxis(keyAxis, 12.5, "#222", 1, "#222");

	addText(g, 1907, 587, "type", 12.5, { bold: true });
	g.append("rect").attr("x", 1907).attr("y", 595).attr("width", 19).attr("height", 18).attr("fill", "#00d7e2");
	g.append("rect").attr("x", 1907).attr("y", 613).attr("width", 19).attr("height", 18).attr("fill", "#fb8b83");
	addText(g, 1930, 605, "high", 12.5);
	addText(g, 1930, 623, "low", 12.5);
})();

// Panels c and d, Kaplan-Meier curves
//---------------------------------------------------------------------------
function stepValue(steps, t) {
	var i = d3.bisectRight(steps.map(function(d) { return d[0]; }), t) - 1;
	return steps[Math.max(i, 0)][1];
}

function drawKm(cfg) {
	var g = svg.append("g");
	var x = d3.scaleLinear().domain(cfg.xDomain).range(cfg.xRange);
	var y = d3.scaleLinear().domain([0, 1]).range(cfg.yRange);
	var line = d3.line().curve(d3.curveStepAfter)
		.x(function(d) { return x(d[0]); })
		.y(function(d) { return y(d[1]); });

	// curves go first, the ribbons are painted over them
	[[cfg.high, redLine], [cfg.low, blueLine]].forEach(function(s) {
		g.append("path").attr("d", line(s[0])).attr("fill", "none")
			.attr("stroke", s[1]).attr("stroke-width", 5);
	});
	[[cfg.highUp, cfg.highLow, redRibbon], [cfg.lowUp, cfg.lowLow, blueRibbon]].forEach(function(s) {
		var times = d3.merge([s[0], s[1]]).map(function(d) { return d[0]; });
		times = Array.from(new Set(times)).sort(d3.ascending);
		var area = d3.area().curve(d3.curveStepAfter)
			.x(function(t) { return x(t); })
			.y0(function(t) { return y(stepValue(s[1], t)); })
			.y1(function(t) { return y(stepValue(s[0], t)); });
		g.append("path").attr("d", area(times)).attr("fill", s[2]).attr("fill-opacity", 0.3);
	});
	[[cfg.highCensor, cfg.high, redLine], [cfg.lowCensor, cfg.low, blueLine]].forEach(function(s) {
		g.selectAll(null).data(s[0]).enter().append("path")
			.attr("d", "M-7,0H7M0,-8V8")
			.attr("transform", function(t) { return "translate(" + x(t) + "," + y(stepValue(s[1], t)) + ")"; })
			.attr("stroke", s[2]).attr("stroke-width", 2).attr("fill", "none");
	});

	var ax = g.append("g").attr("transform", "translate(0," + cfg.axisY + ")")
		.call(d3.axisBottom(x).tickValues(cfg.xTicks).tickSize(6).tickPadding(5));
	styleAxis(ax, 23, "#000", 2, "#111");
	var ay = g.append("g").attr("transform", "translate(" + cfg.axisX + ",0)")
		.call(d3.axisLeft(y).tickValues(kmYTicks).tickFormat(d3.format(".2f")).tickSize(6).tickPadding(3));
	styleAxis(ay, 23, "#000", 2, "#111");
	g.append("line").attr("x1", cfg.axisX).attr("x2", cfg.axisX).attr("y1", cfg.top).attr("y2", cfg.axisY + 1.5)
		.attr("stroke", "#000").attr("stroke-width", 3);
	g.append("line").attr("x1", cfg.axisX).attr("x2", cfg.right).attr("y1", cfg.axisY).attr("y2", cfg.axisY)
		.attr("stroke", "#000").attr("stroke-width", 3);

	addText(g, cfg.titleX, cfg.titleY, "Time(years)", 27.5, { anchor: "middle" });
	addText(g, cfg.ylabX, cfg.ylabY, "Survival probability", 27.2, { anchor: "middle", rotate: true });
	addText(g, cfg.pX, cfg.pY, cfg.pText, 21.5, {});
}

drawKm({
	xDomain: [0, 15], xRange: [225.6, 916.9], yRange: [1346, 970.5],
	high: cHigh, highUp: cHighUp, highLow: cHighLow, low: cLow, lowUp: cLowUp, lowLow: cLowLow,
	highCensor: cHighCensor, lowCensor: cLowCensor, xTicks: cTicks,
	axisX: 191.9, axisY: 1365, top: 953, right: 951,
	titleX: 572, titleY: 1414, ylabX: 69, ylabY: 1159.5,
	pX: 239, pY: 1272, pText: "p=1.518e−05"
});
drawKm({
	xDomain: [0, 8], xRange: [1219.6, 1910.3], yRange: [1399.5, 1024.8],
	high: dHigh, highUp: dHighUp, highLow: dHighLow, low: dLow, lowUp: dLowUp, lowLow: dLowLow,
	highCensor: dHighCensor, lowCensor: dLowCensor, xTicks: dTicks,
	axisX: 1185.5, axisY: 1417.7, top: 1006.5, right: 1945,
	titleX: 1565.5, titleY: 1467.5, ylabX: 1062, ylabY: 1212,
	pX: 1233, pY: 1325, pText: "p=4.33e−01"
});
drawRiskLegend(1418, 953);

// Panels e and f, ROC curves
//---------------------------------------------------------------------------
function drawRoc(cfg) {
	var g = svg.append("g");
	var x = d3.scaleLinear().domain([0, 1]).range(cfg.xRange);
	var y = d3.scaleLinear().domain([0, 1]).range(cfg.yRange);
	var box = cfg.box; // left, top, right, bottom

	var clipId = "clip-" + cfg.id;
	svg.append("clipPath").attr("id", clipId).append("rect")
		.attr("x", box[0]).attr("y", box[1]).attr("width", box[2] - box[0]).attr("height", box[3] - box[1]);

	var grid = g.append("g");
	[[rocMinor, 2.5, "#f2f2f2"], [rocTicks, 4, "#ebebeb"]].forEach(function(s) {
		s[0].forEach(function(v) {
			grid.append("line").attr("x1", box[0] + 5).attr("x2", box[2] - 5).attr("y1", y(v)).attr("y2", y(v))
				.attr("stroke", s[2]).attr("stroke-width", s[1]);
			grid.append("line").attr("x1", x(v)).attr("x2", x(v)).attr("y1", box[1] + 5).attr("y2", box[3] - 5)
				.attr("stroke", s[2]).attr("stroke-width", s[1]);
		});
	});

	// legend sits between grid and curves
	g.append("rect").attr("x", cfg.legend[0]).attr("y", 1700.5)
		.attr("width", cfg.legend[1] - cfg.legend[0]).attr("height", 194).attr("fill", "#fff");
	addText(g, cfg.legend[0] + 15, 1721.5, "AUC", 8, { bold: true });
	cfg.labels.forEach(function(label, i) {
		var ly = 1755.6 + i * 49.3;
		g.append("line").attr("x1", cfg.legend[0] + 21).attr("x2", cfg.legend[0] + 60).attr("y1", ly).attr("y2", ly)
			.attr("stroke", rocColors[i]).attr("stroke-width", 4);
		addText(g, cfg.legend[0] + 69, ly, label, 10);
	});

	var line = d3.line()
		.x(function(d) { return x(d[0]); })
		.y(function(d) { return y(d[1]); });
	cfg.curves.forEach(function(c, i) {
		g.append("path").attr("d", line(c)).attr("fill", "none")
			.attr("stroke", rocColors[i]).attr("stroke-width", 4.6).attr("stroke-linejoin", "round");
	});
	g.append("path").attr("d", line(rocDiag.map(function(v) { return [v, v]; })))
		.attr("clip-path", "url(#" + clipId + ")")
		.attr("stroke", "#000").attr("stroke-width", 5).attr("stroke-dasharray", "15,11");

	g.append("rect").attr("x", box[0]).attr("y", box[1])
		.attr("width", box[2] - box[0]).attr("height", box[3] - box[1])
		.attr("fill", "none").attr("stroke", "#222").attr("stroke-width", 2.8);

	var ax = g.append("g").attr("transform", "translate(0," + box[3] + ")")
		.call(d3.axisBottom(x).tickValues(rocTicks).tickFormat(d3.format(".2f")).tickSize(7).tickPadding(6));
	styleAxis(ax, 27, "#111", 3, "#444");
	var ay = g.append("g").attr("transform", "translate(" + box[0] + ",0)")
		.call(d3.axisLeft(y).tickValues(rocTicks).tickFormat(d3.format(".2f")).tickSize(7).tickPadding(5));
	styleAxis(ay, 27, "#111", 3, "#444");

	addText(g, cfg.titleX, 2010, "False positive rate", 31.2, { anchor: "middle" });
	addText(g, cfg.ylabX, 1737, "True positive rate", 26, { anchor: "middle", rotate: true });
}

drawRoc({
	id: "e", xRange: [197.5, 913], yRange: [1932, 1567.8], box: [162.5, 1549.4, 950, 1950.5],
	legend: [759.4, 934.4], labels: eLegend, curves: [e1year, e3year, e5year],
	titleX: 564.4, ylabX: 66
});
drawRoc({
	id: "f", xRange: [1194.7, 1879.1], yRange: [1931, 1571.5], box: [1160.4, 1548.4, 1945.9, 1949.5],
	legend: [1757.3, 1933.6], labels: fLegend, curves: [f1year, f3year, f5year],
	titleX: 1562, ylabX: 1063
});
</script>
</body>
</html>
